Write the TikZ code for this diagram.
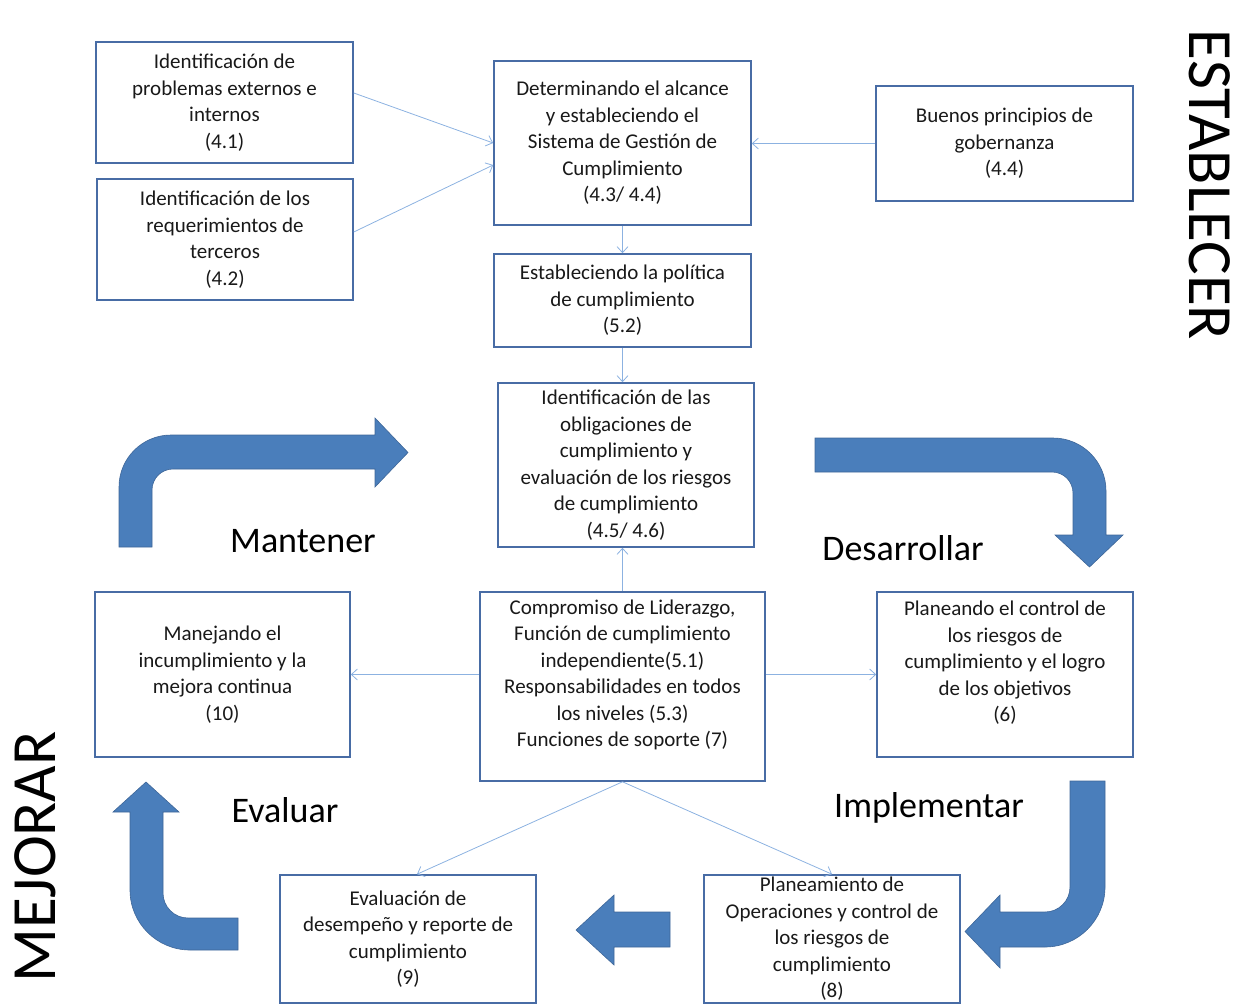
\documentclass[tikz,border=0pt]{standalone}
\usepackage{fontspec}
\setmainfont{Carlito}
\usetikzlibrary{arrows.meta,calc}
\definecolor{boxc}{RGB}{72,108,165}
\definecolor{arrc}{RGB}{74,126,187}
\definecolor{arrd}{RGB}{62,102,152}
\definecolor{linec}{RGB}{140,178,225}
\definecolor{txtc}{RGB}{25,25,25}
\begin{document}
\begin{tikzpicture}[x=1pt,y=-1pt,
 box/.style={draw=boxc, line width=1.6pt, fill=white, align=center, inner sep=0pt, text=txtc, font=\fontsize{21}{26.5}\selectfont},
 txt/.style={align=center, inner sep=0pt, text=txtc, font=\fontsize{21}{26.5}\selectfont},
 conn/.style={draw=linec, line width=0.8pt, -{Straight Barb[length=6pt,width=11pt]}},
 blockarrow/.style={fill=arrc, draw=arrd, line width=0.6pt},
 phase/.style={inner sep=0pt, text=black, font=\fontsize{36}{40}\selectfont},
 big/.style={inner sep=0pt, text=black, font=\fontsize{63}{70}\selectfont}]

\useasboundingbox (0,0) rectangle (1238,1008);

% boxes
\node[box, minimum width=257, minimum height=121] (b41) at (224.5,102.5)
  {Identificación de\\ problemas externos e\\ internos\\ (4.1)};
\node[box, minimum width=256, minimum height=121] (b42) at (225,239.5)
  {Identificación de los\\ requerimientos de\\ terceros\\ (4.2)};
\node[box, minimum width=257, minimum height=164] (b43) at (622.5,143)
  {Determinando el alcance\\ y estableciendo el\\ Sistema de Gestión de\\ Cumplimiento\\ (4.3/ 4.4)};
\node[box, minimum width=257, minimum height=115] (b44) at (1004.5,143.5)
  {Buenos principios de\\ gobernanza\\ (4.4)};
\node[box, minimum width=257, minimum height=93] (b52) at (622.5,300.5)
  {Estableciendo la política\\ de cumplimiento\\ (5.2)};
\node[box, minimum width=256, minimum height=164] (b45) at (626,465)
  {Identificación de las\\ obligaciones de\\ cumplimiento y\\ evaluación de los riesgos\\ de cumplimiento\\ (4.5/ 4.6)};
\node[box, minimum width=285, minimum height=189] (b51) at (622.5,686.5) {};
\node[txt] (b51t) at (622.5,675)
  {Compromiso de Liderazgo,\\ Función de cumplimiento\\ independiente(5.1)\\ Responsabilidades en todos\\ los niveles (5.3)\\ Funciones de soporte (7)};
\node[box, minimum width=256, minimum height=165] (b6) at (1005,674.5) {};
\node[txt] (b6t) at (1005,663)
  {Planeando el control de\\ los riesgos de\\ cumplimiento y el logro\\ de los objetivos\\ (6)};
\node[box, minimum width=255, minimum height=165] (b10) at (222.5,674.5)
  {Manejando el\\ incumplimiento y la\\ mejora continua\\ (10)};
\node[box, minimum width=256, minimum height=128] (b9) at (408,939)
  {Evaluación de\\ desempeño y reporte de\\ cumplimiento\\ (9)};
\node[box, minimum width=256, minimum height=128] (b8) at (832,939)
  {Planeamiento de\\ Operaciones y control de\\ los riesgos de\\ cumplimiento\\ (8)};

% connectors
\draw[conn] ([yshift=9.5pt]b41.east) -- (b43.west);
\draw[conn] ([yshift=7.5pt]b42.east) -- ([yshift=-22pt]b43.west);
\draw[conn] (b44.west) -- (b44.west -| b43.east);
\draw[conn] (b43.south) -- (b52.north);
\draw[conn] (b52.south) -- (b52.south |- b45.north);
\draw[conn] (b51.north) -- (b51.north |- b45.south);
\draw[conn] (b51.west |- b10.east) -- (b10.east);
\draw[conn] (b51.east |- b6.west) -- (b6.west);
\draw[conn] (b51.south) -- ([xshift=9pt]b9.north);
\draw[conn] (b51.south) -- (b8.north);

% block arrows
% Mantener
\path[blockarrow] (119,547) -- (119,487) .. controls (119,458.3) and (142.3,435) .. (171,435)
  -- (375,435) -- (375,418) -- (408,452.5) -- (375,487) -- (375,469) -- (173,469)
  .. controls (161.4,469) and (152,478.4) .. (152,490) -- (152,547) -- cycle;
% Desarrollar
\path[blockarrow] (815,438) -- (1053,438) .. controls (1082.3,438) and (1106,461.7) .. (1106,491)
  -- (1106,535) -- (1123,535) -- (1089.5,567) -- (1055,535) -- (1073,535) -- (1073,493)
  .. controls (1073,481.4) and (1063.6,472) .. (1052,472) -- (815,472) -- cycle;
% Implementar
\path[blockarrow] (1070,781) -- (1105,781) -- (1105,887) .. controls (1105,920.1) and (1078.1,947) .. (1045,947)
  -- (1000,947) -- (1000,968) -- (965,931.5) -- (1000,895) -- (1000,912) -- (1045,912)
  .. controls (1058.8,912) and (1070,900.8) .. (1070,887) -- cycle;
% between 8 and 9
\path[blockarrow] (670,912) -- (614,912) -- (614,895) -- (576,930) -- (614,965) -- (614,947) -- (670,947) -- cycle;
% Evaluar
\path[blockarrow] (146,782) -- (179,812) -- (163,812) -- (163,893) .. controls (163,906.8) and (174.2,918) .. (188,918)
  -- (238,918) -- (238,950) -- (190,950) .. controls (156.9,950) and (130,923.1) .. (130,890)
  -- (130,812) -- (113,812) -- cycle;

% phase labels
\node[phase] (mant) at (303,541) {Mantener};
\node[phase] (desa) at (903,548) {Desarrollar};
\node[phase] (eval) at (285,810) {Evaluar};
\node[phase] (impl) at (929,808) {Implementar};
\node[big, rotate=-90] (est) at (1210,185) {ESTABLECER};
\node[big, rotate=90] (mej) at (35,857) {MEJORAR};
\end{tikzpicture}
\end{document}
